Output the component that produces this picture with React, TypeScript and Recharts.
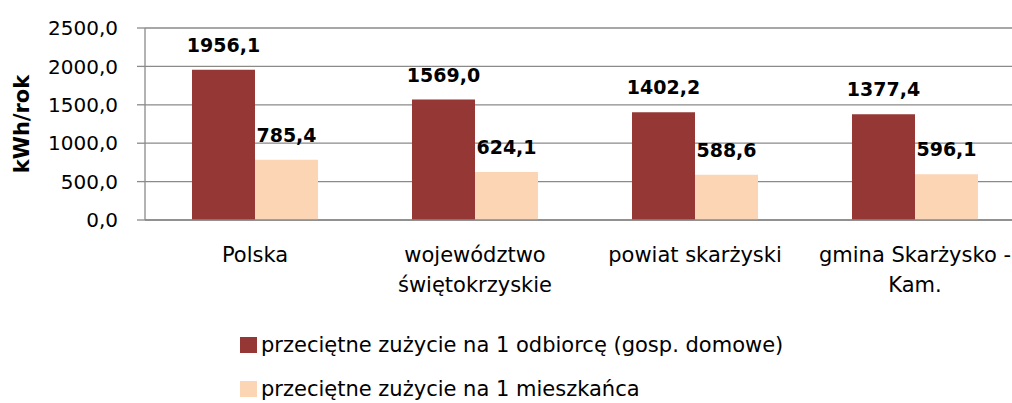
import React from "react";
import {
  BarChart,
  Bar,
  XAxis,
  YAxis,
  CartesianGrid,
  LabelList,
} from "recharts";

const categories = [
  "Polska",
  "województwo\nświętokrzyskie",
  "powiat skarżyski",
  "gmina Skarżysko -\nKam.",
];
const perRecipient = [1956.1, 1569.0, 1402.2, 1377.4];
const perResident = [785.4, 624.1, 588.6, 596.1];
const yTicks = [0, 500, 1000, 1500, 2000, 2500];
const edgeTicks = [0, 1, 2, 3, 4];
const seriesNames = [
  "przeciętne zużycie na 1 odbiorcę (gosp. domowe)",
  "przeciętne zużycie na 1 mieszkańca",
];
const seriesColors = ["#953735", "#FCD5B5"];

const data = categories.map((name, i) => ({
  name,
  recipient: perRecipient[i],
  resident: perResident[i],
}));

const FONT = "'DejaVu Sans', sans-serif";
const GRID = "#8a8a8a";

const fmt = (v: number) => v.toFixed(1).replace(".", ",");

function CategoryTick({ x, y, payload }: any) {
  const lines = String(payload.value).split("\n");
  return (
    <text x={x} y={y} textAnchor="middle" fontSize={21} fill="#000" fontFamily={FONT}>
      {lines.map((line, i) => (
        <tspan key={i} x={x} dy={i === 0 ? 42 : 30}>
          {line}
        </tspan>
      ))}
    </text>
  );
}

function AxisTitle({ viewBox }: any) {
  const cy = viewBox.y + viewBox.height / 2;
  return (
    <text
      transform={`translate(22, ${cy}) rotate(-90)`}
      textAnchor="middle"
      dominantBaseline="central"
      fontSize={21}
      fontWeight="bold"
      fill="#000"
      fontFamily={FONT}
    >
      kWh/rok
    </text>
  );
}

export default function App() {
  return (
    <div
      style={{
        position: "absolute",
        left: 0,
        top: 0,
        width: 1012,
        height: 403,
        overflow: "hidden",
        background: "#fff",
        fontFamily: FONT,
      }}
    >
      <BarChart
        width={1040}
        height={403}
        data={data}
        margin={{ top: 28, right: 15, bottom: 0, left: 0 }}
        barCategoryGap={47}
        barGap={0}
      >
        <CartesianGrid vertical={false} stroke={GRID} strokeWidth={1.3} />
        <XAxis
          xAxisId="edges"
          type="number"
          domain={[0, 4]}
          allowDataOverflow
          ticks={edgeTicks}
          tick={false}
          tickSize={9}
          tickLine={{ stroke: GRID, strokeWidth: 1.3 }}
          axisLine={false}
          height={0}
        />
        <XAxis
          xAxisId="cat"
          dataKey="name"
          interval={0}
          tickLine={false}
          tickSize={0}
          tickMargin={0}
          axisLine={{ stroke: GRID, strokeWidth: 1.3 }}
          tick={<CategoryTick />}
          height={183}
        />
        <YAxis
          width={145}
          domain={[0, 2500]}
          ticks={yTicks}
          tickFormatter={fmt}
          tickSize={8}
          tickMargin={19}
          tickLine={{ stroke: GRID, strokeWidth: 1.3 }}
          axisLine={{ stroke: GRID, strokeWidth: 1.3 }}
          tick={{ fontSize: 20, fill: "#000", fontFamily: FONT }}
          label={{ content: <AxisTitle /> }}
        />
        <Bar
          xAxisId="cat"
          dataKey="recipient"
          name={seriesNames[0]}
          fill={seriesColors[0]}
          isAnimationActive={false}
        >
          <LabelList
            dataKey="recipient"
            position="top"
            offset={18}
            formatter={(v: any) => fmt(Number(v))}
            style={{ fontSize: 19, fontWeight: "bold", fill: "#000", fontFamily: FONT }}
          />
        </Bar>
        <Bar
          xAxisId="cat"
          dataKey="resident"
          name={seriesNames[1]}
          fill={seriesColors[1]}
          isAnimationActive={false}
        >
          <LabelList
            dataKey="resident"
            position="top"
            offset={18}
            formatter={(v: any) => fmt(Number(v))}
            style={{ fontSize: 19, fontWeight: "bold", fill: "#000", fontFamily: FONT }}
          />
        </Bar>
      </BarChart>
      {seriesNames.map((name, i) => (
        <div
          key={name}
          style={{
            position: "absolute",
            left: 240,
            top: 330 + i * 44,
            height: 30,
            display: "flex",
            alignItems: "center",
            fontSize: 21,
            color: "#000",
            whiteSpace: "nowrap",
          }}
        >
          <span
            style={{
              display: "inline-block",
              width: 17,
              height: 16,
              background: seriesColors[i],
              marginRight: 4,
            }}
          />
          {name}
        </div>
      ))}
    </div>
  );
}
